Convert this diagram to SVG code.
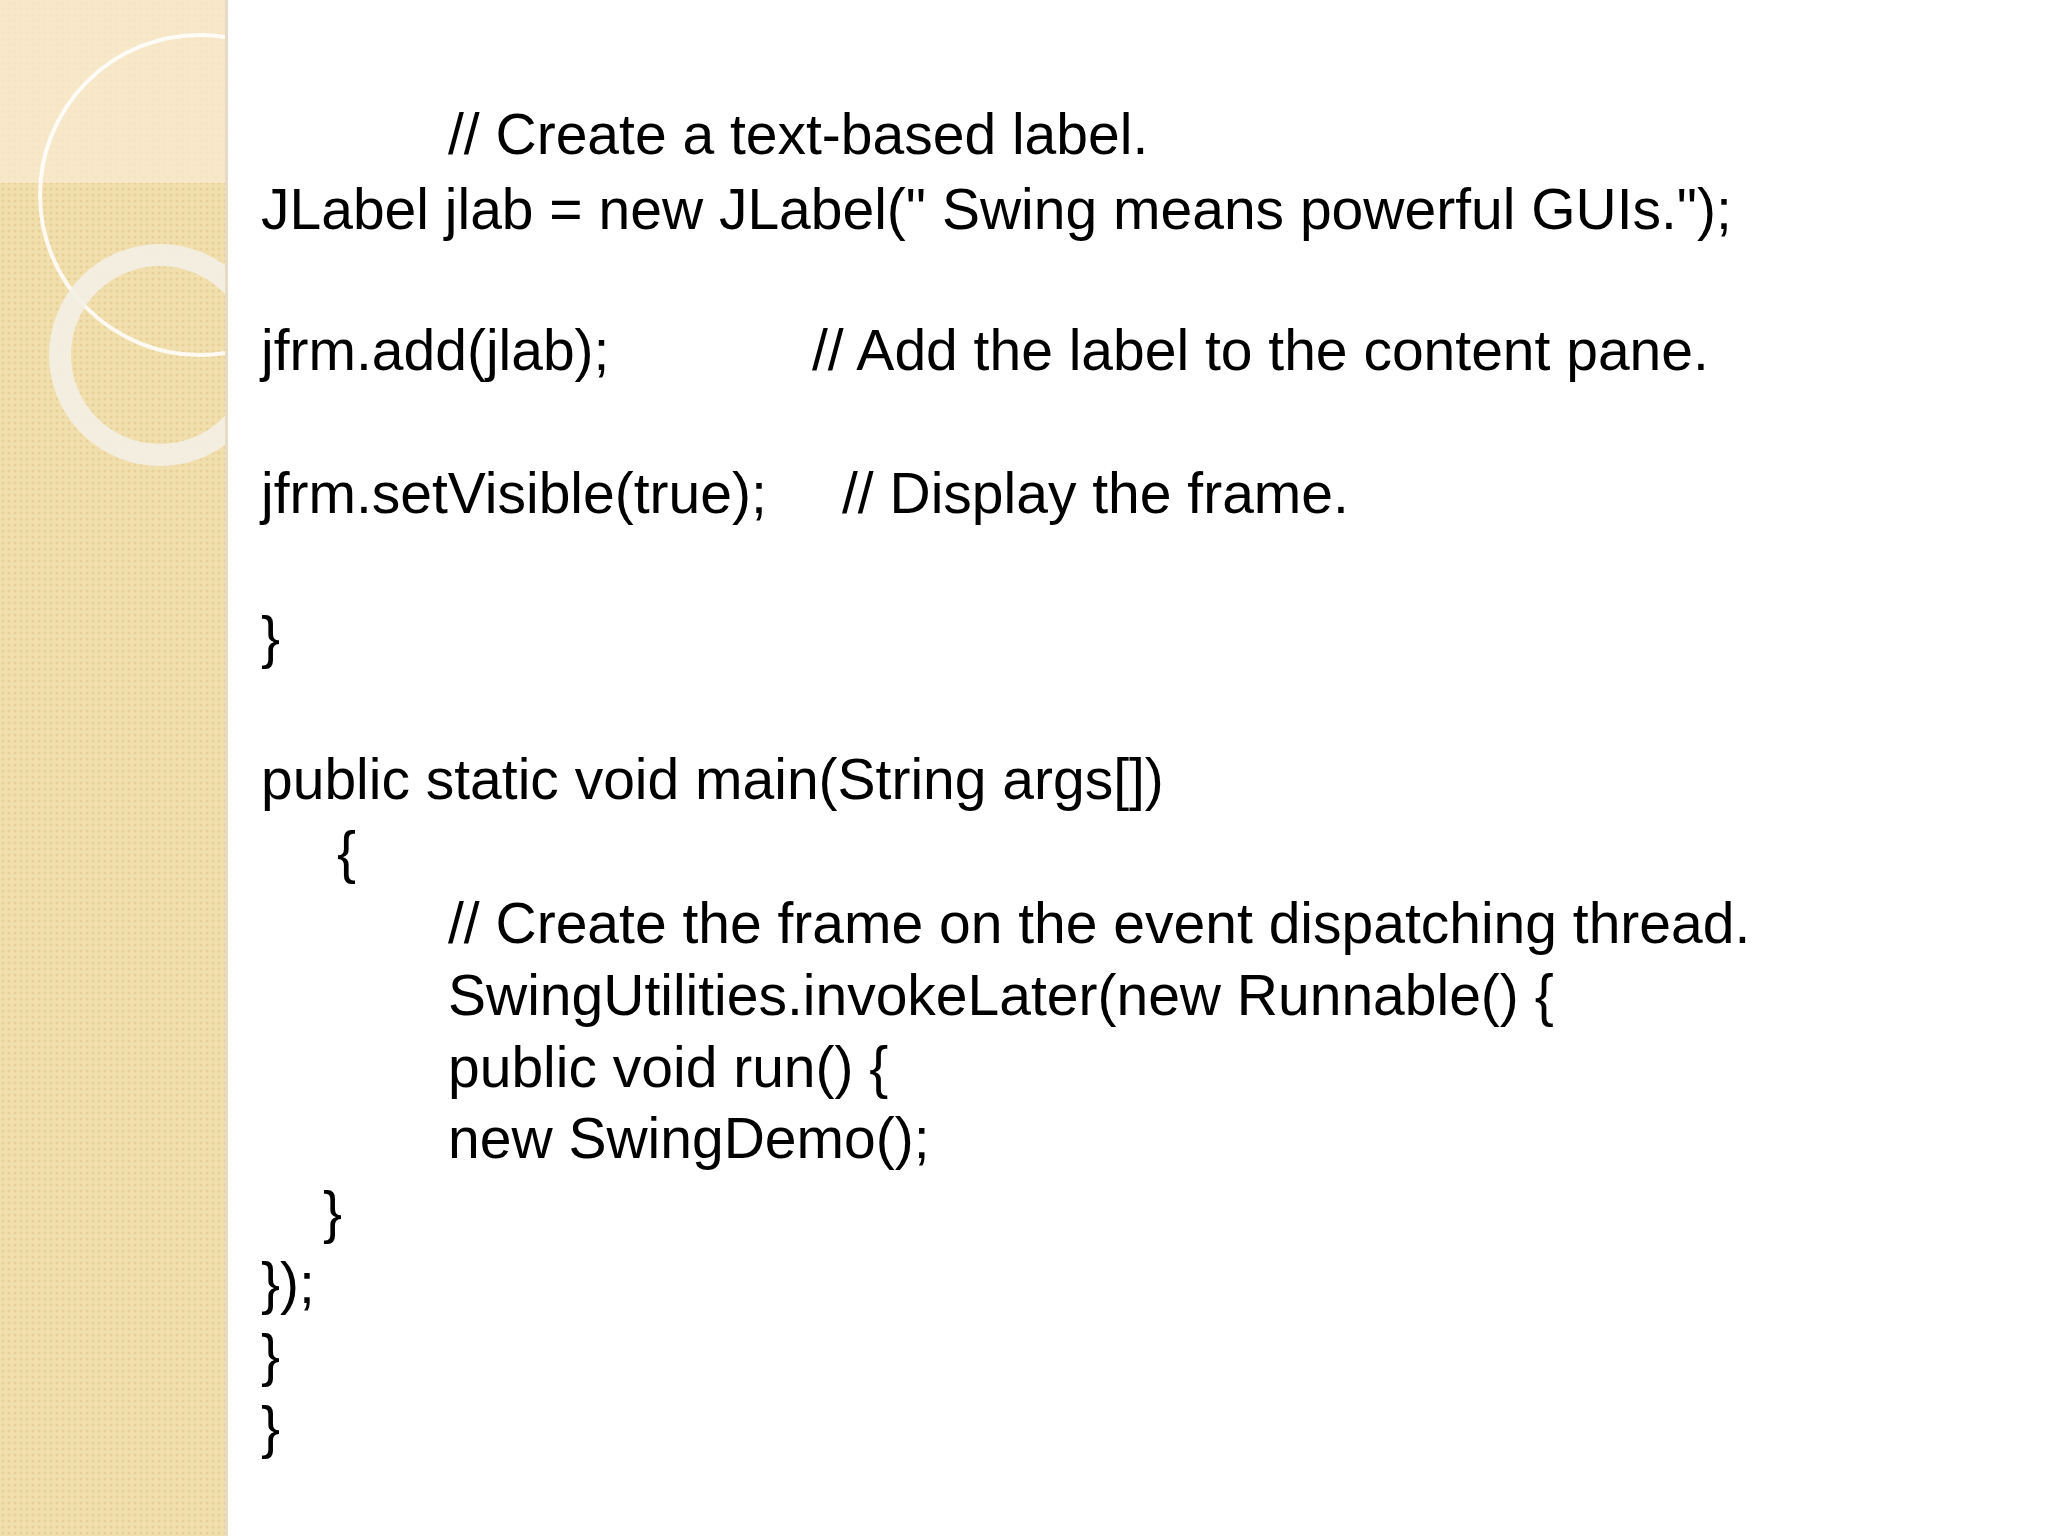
<svg xmlns="http://www.w3.org/2000/svg" width="2048" height="1536" viewBox="0 0 2048 1536">
<defs>
<pattern id="dots" width="6" height="6" patternUnits="userSpaceOnUse">
<rect width="6" height="6" fill="#f2dfae"/>
<circle cx="3" cy="3" r="1.6" fill="#e8d199"/>
</pattern>
<clipPath id="band"><rect x="0" y="0" width="225" height="1536"/></clipPath>
</defs>
<style>
text{font-family:"Liberation Sans",Arial,sans-serif;font-size:57px;fill:#000}
</style>
<rect width="2048" height="1536" fill="#ffffff"/>
<g id="band-deco" clip-path="url(#band)">
<rect x="0" y="0" width="225" height="1536" fill="url(#dots)"/>
<rect x="0" y="0" width="225" height="183" fill="#f7ead0" opacity="0.8"/>
<circle cx="200" cy="195" r="160" fill="none" stroke="#ffffff" stroke-width="4" opacity="0.85"/>
<circle cx="160" cy="355" r="100" fill="none" stroke="#f3efe6" stroke-width="22" opacity="0.9"/>
</g>
<rect x="225" y="0" width="3" height="1536" fill="#e6dcc6"/>
<g id="code">
<text x="448" y="154">// Create a text-based label.</text>
<text x="261" y="229">JLabel jlab = new JLabel(" Swing means powerful GUIs.");</text>
<text x="261" y="370">jfrm.add(jlab);</text>
<text x="812" y="370">// Add the label to the content pane.</text>
<text x="261" y="513">jfrm.setVisible(true);</text>
<text x="842" y="513">// Display the frame.</text>
<text x="261" y="657">}</text>
<text x="261" y="799">public static void main(String args[])</text>
<text x="337" y="872">{</text>
<text x="448" y="943">// Create the frame on the event dispatching thread.</text>
<text x="448" y="1015">SwingUtilities.invokeLater(new Runnable() {</text>
<text x="448" y="1087">public void run() {</text>
<text x="448" y="1158">new SwingDemo();</text>
<text x="323" y="1232">}</text>
<text x="261" y="1303">});</text>
<text x="261" y="1375">}</text>
<text x="261" y="1447">}</text>
</g>
</svg>
